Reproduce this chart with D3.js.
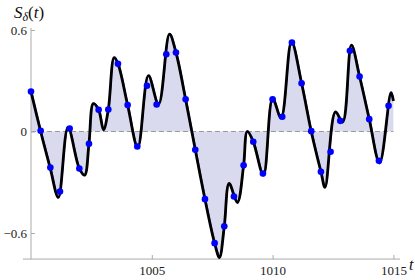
<!DOCTYPE html>
<html>
<head>
<meta charset="utf-8">
<script src="https://cdn.jsdelivr.net/npm/d3@7"></script>
<style>
  body { margin: 0; background: #fff; }
  svg { display: block; font-family: "Liberation Serif", "DejaVu Serif", serif; }
</style>
</head>
<body>
<div id="plot"></div>
<script>
// smooth signal (black curve)
const curveT = [1000.0, 1000.4, 1000.8, 1001.13, 1001.53, 1002.0, 1002.22, 1002.4, 1002.58, 1002.8,
                1003.0, 1003.2, 1003.44, 1003.6, 1004.0, 1004.42, 1004.86, 1005.28, 1005.73, 1006.0,
                1006.4, 1006.8, 1007.2, 1007.6, 1007.8, 1008.0, 1008.2, 1008.54, 1008.8, 1008.95,
                1009.2, 1009.62, 1010.0, 1010.35, 1010.78, 1011.2, 1011.6, 1012.0, 1012.17, 1012.6,
                1012.9, 1013.26, 1013.6, 1014.0, 1014.43, 1014.9, 1015.0];
const curveV = [0.236, 0.0, -0.22, -0.39, 0.024, -0.219, -0.258, -0.07, 0.165, 0.128,
                0.01, 0.13, 0.437, 0.40, 0.156, -0.095, 0.33, 0.16, 0.575, 0.467,
                0.19, -0.108, -0.40, -0.66, -0.745, -0.56, -0.307, -0.42, -0.2, 0.0,
                -0.061, -0.258, 0.195, 0.08, 0.53, 0.285, 0.0, -0.238, -0.33, 0.116,
                0.055, 0.51, 0.325, 0.073, -0.187, 0.23, 0.18];

// samples (blue dots)
const sampleT = [1000.0, 1000.4, 1000.8, 1001.2, 1001.6, 1002.0, 1002.4, 1002.8, 1003.2, 1003.6,
                 1004.0, 1004.4, 1004.8, 1005.2, 1005.6, 1006.0, 1006.4, 1006.8, 1007.2, 1007.6,
                 1008.0, 1008.4, 1008.8, 1009.2, 1009.6, 1010.0, 1010.4, 1010.8, 1011.2, 1011.6,
                 1012.0, 1012.4, 1012.8, 1013.2, 1013.6, 1014.0, 1014.4, 1014.8];
const sampleV = [0.236, 0.004, -0.213, -0.355, 0.018, -0.219, -0.073, 0.128, 0.13, 0.40,
                 0.156, -0.089, 0.27, 0.16, 0.457, 0.467, 0.19, -0.108, -0.40, -0.66,
                 -0.56, -0.384, -0.2, -0.061, -0.248, 0.19, 0.087, 0.526, 0.285, 0.002,
                 -0.238, -0.12, 0.063, 0.477, 0.325, 0.073, -0.173, 0.152];

const xTicks = [1005, 1010, 1015];
const yTicks = [-0.6, 0, 0.6];
const tDomain = [1000, 1015];
const yBottom = -0.754;   // where the t axis sits

const width = 415, height = 280;

const svg = d3.select("#plot").append("svg")
    .attr("width", width)
    .attr("height", height);

const x = d3.scaleLinear().domain(tDomain).range([31, 393.4]);
const y = d3.scaleLinear().domain([-0.6, 0.6]).range([233, 30]);

const curveData = curveT.map((t, i) => [t, curveV[i]]);
const samples = sampleT.map((t, i) => [t, sampleV[i]]);

// filled area between the curve and 0
const area = d3.area()
    .x(d => x(d[0]))
    .y0(y(0))
    .y1(d => y(d[1]))
    .curve(d3.curveCatmullRom.alpha(0.5));

svg.append("path")
    .datum(curveData)
    .attr("d", area)
    .attr("fill", "#dadaee");

// dashed zero line
svg.append("line")
    .attr("x1", x(tDomain[0])).attr("x2", x(tDomain[1]))
    .attr("y1", y(0)).attr("y2", y(0))
    .attr("stroke", "#999")
    .attr("stroke-width", 1.2)
    .attr("stroke-dasharray", "5,3");

// axes lines
svg.append("line")
    .attr("x1", 23).attr("x2", 400)
    .attr("y1", y(yBottom)).attr("y2", y(yBottom))
    .attr("stroke", "#aaa");
svg.append("line")
    .attr("x1", x(tDomain[0])).attr("x2", x(tDomain[0]))
    .attr("y1", y(yBottom)).attr("y2", 28)
    .attr("stroke", "#aaa");

const yAxis = d3.axisLeft(y)
    .tickValues(yTicks)
    .tickSize(-4)
    .tickPadding(4)
    .tickFormat(d => d === 0 ? "0" : d3.format(".1f")(d));

const gy = svg.append("g")
    .attr("transform", `translate(${x(tDomain[0])},0)`)
    .call(yAxis);

const xAxis = d3.axisBottom(x)
    .tickValues(xTicks)
    .tickSize(-4)
    .tickPadding(7)
    .tickFormat(d3.format("d"));

const gx = svg.append("g")
    .attr("transform", `translate(0,${y(yBottom)})`)
    .call(xAxis);

[gx, gy].forEach(g => {
  g.select(".domain").remove();
  g.selectAll(".tick line").attr("stroke", "#aaa");
  g.selectAll(".tick text")
    .attr("fill", "#222")
    .attr("font-size", 13)
    .attr("font-family", "'Liberation Serif', serif");
});

// thin blue interpolation under the thick black curve
const line = d3.line()
    .x(d => x(d[0]))
    .y(d => y(d[1]))
    .curve(d3.curveCatmullRom.alpha(0.5));

svg.append("path")
    .datum(curveData)
    .attr("d", line)
    .attr("fill", "none")
    .attr("stroke", "#2233ff")
    .attr("stroke-width", 0.8)
    .attr("transform", "translate(0.6,-0.8)");

svg.append("path")
    .datum(curveData)
    .attr("d", line)
    .attr("fill", "none")
    .attr("stroke", "#000")
    .attr("stroke-width", 2.8)
    .attr("stroke-linejoin", "round");

svg.append("g")
    .selectAll("circle")
    .data(samples)
    .enter()
    .append("circle")
    .attr("cx", d => x(d[0]))
    .attr("cy", d => y(d[1]))
    .attr("r", 3.3)
    .attr("fill", "#0000ff");

// axis labels
const ylab = svg.append("text")
    .attr("x", 14)
    .attr("y", 18)
    .attr("font-size", 17)
    .attr("fill", "#111");
ylab.append("tspan").attr("font-style", "italic").text("S");
ylab.append("tspan").attr("font-style", "italic").attr("font-size", 12).attr("dy", 3).text("δ");
ylab.append("tspan").attr("dy", -3).text("(");
ylab.append("tspan").attr("font-style", "italic").text("t");
ylab.append("tspan").text(")");

svg.append("text")
    .attr("x", 409)
    .attr("y", 270)
    .attr("font-size", 16)
    .attr("font-style", "italic")
    .attr("fill", "#111")
    .text("t");
</script>
</body>
</html>
